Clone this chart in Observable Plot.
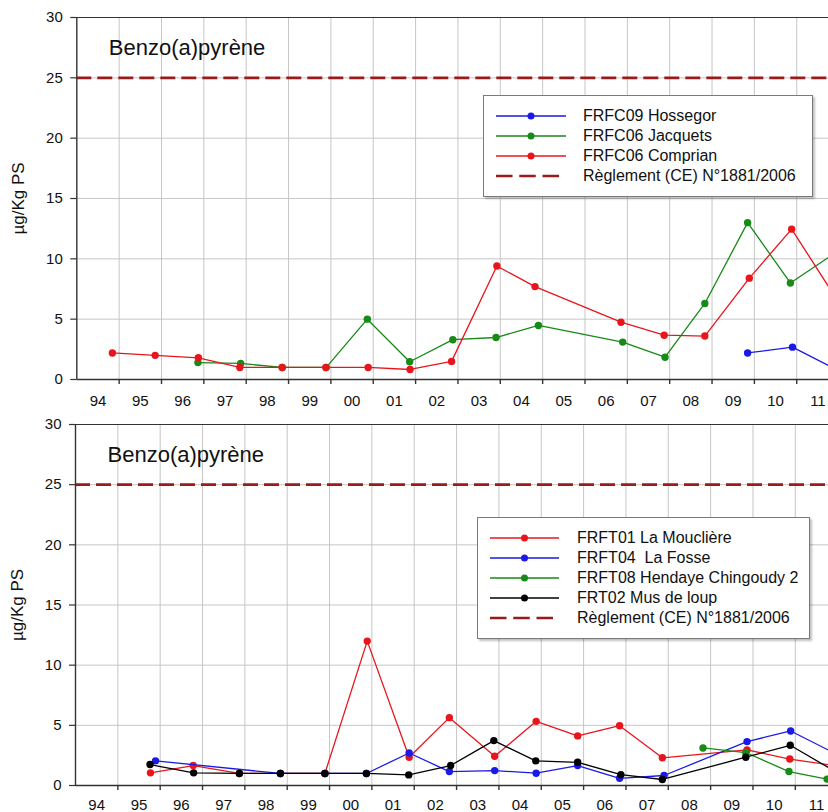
<!DOCTYPE html>
<html>
<head>
<meta charset="utf-8">
<script src="https://cdn.jsdelivr.net/npm/d3@7"></script>
<script src="https://cdn.jsdelivr.net/npm/@observablehq/plot@0.6"></script>
<style>
  html, body { margin: 0; padding: 0; background: #fff; overflow: hidden; }
  #wrap { position: relative; width: 828px; height: 812px; overflow: hidden; font-family: "Liberation Sans", Arial, sans-serif; }
  .panel { position: absolute; left: 0; }
  .legend { position: absolute; background: #fff; border: 1px solid #7a7a7a; box-shadow: 2px 2px 2px rgba(0,0,0,0.25); box-sizing: border-box; font-family: "Liberation Sans", Arial, sans-serif; font-size: 16px; color: #111; }
  .legend .row { display: flex; align-items: center; height: 20px; white-space: pre; }
  .legend svg { display: block; flex: none; }
</style>
</head>
<body>
<div id="wrap"></div>
<script>
// ---------- data ----------
const title = "Benzo(a)pyrène";
const yLabel = "µg/Kg PS";
const limitLabel = "Règlement (CE) N°1881/2006";
const limitValue = 25;
const yTicks = [0, 5, 10, 15, 20, 25, 30];
const yearLabels = ["94","95","96","97","98","99","00","01","02","03","04","05","06","07","08","09","10","11"];
const firstYear = 1994;

// top panel
const hossegorYears  = [2009.84, 2010.90, 2011.90];
const hossegorValues = [2.2, 2.68, 0.9];
const jacquetsYears  = [1996.86, 1997.87, 1998.85, 1999.89, 2000.86, 2001.86, 2002.88, 2003.90, 2004.90, 2006.89, 2007.89, 2008.83, 2009.84, 2010.85, 2011.87];
const jacquetsValues = [1.4, 1.33, 1.0, 1.0, 5.0, 1.47, 3.3, 3.48, 4.48, 3.1, 1.85, 6.3, 13.0, 8.0, 10.4];
const comprianYears  = [1994.84, 1995.85, 1996.87, 1997.85, 1998.85, 1999.88, 2000.88, 2001.87, 2002.85, 2003.92, 2004.82, 2006.85, 2007.87, 2008.83, 2009.88, 2010.88, 2011.88];
const comprianValues = [2.2, 2.0, 1.8, 1.0, 1.0, 1.0, 1.0, 0.83, 1.5, 9.4, 7.7, 4.75, 3.67, 3.6, 8.4, 12.46, 7.0];

// bottom panel
const moucliereYears  = [1995.77, 1996.78, 1997.87, 1998.84, 1999.89, 2000.89, 2001.88, 2002.83, 2003.90, 2004.88, 2005.86, 2006.85, 2007.86, 2009.86, 2010.87, 2011.87];
const moucliereValues = [1.05, 1.66, 1.0, 1.0, 1.0, 12.0, 2.35, 5.64, 2.43, 5.33, 4.12, 4.97, 2.3, 2.96, 2.2, 1.68];
const fosseYears  = [1995.89, 1998.84, 1999.89, 2000.87, 2001.88, 2002.83, 2003.90, 2004.88, 2005.86, 2006.85, 2007.90, 2009.86, 2010.89, 2011.89];
const fosseValues = [2.05, 1.0, 1.0, 1.0, 2.7, 1.16, 1.24, 1.02, 1.66, 0.6, 0.83, 3.65, 4.53, 2.75];
const hendayeYears  = [2008.82, 2009.83, 2010.85, 2011.75];
const hendayeValues = [3.12, 2.74, 1.16, 0.53];
const musYears  = [1995.76, 1996.79, 1997.87, 1998.84, 1999.89, 2000.87, 2001.87, 2002.86, 2003.88, 2004.87, 2005.86, 2006.88, 2007.86, 2009.83, 2010.88, 2011.88];
const musValues = [1.74, 1.05, 1.0, 1.0, 1.0, 1.0, 0.88, 1.66, 3.73, 2.05, 1.93, 0.9, 0.5, 2.35, 3.34, 1.29];

// ---------- styles ----------
const RED = "#e8161c", GREEN = "#178a17", BLUE = "#1a1ae6", BLACK = "#000000", LIMIT = "#9a1b1b";
const FONT = "'Liberation Sans', Arial, sans-serif";

const toRows = (name, xs, ys) => xs.map((x, i) => ({name, x, y: ys[i]}));

const topSeries = [
  {name: "FRFC09 Hossegor", color: BLUE, rows: toRows("FRFC09 Hossegor", hossegorYears, hossegorValues)},
  {name: "FRFC06 Jacquets", color: GREEN, rows: toRows("FRFC06 Jacquets", jacquetsYears, jacquetsValues)},
  {name: "FRFC06 Comprian", color: RED, rows: toRows("FRFC06 Comprian", comprianYears, comprianValues)}
];
const bottomSeries = [
  {name: "FRFT01 La Mouclière", color: RED, rows: toRows("FRFT01 La Mouclière", moucliereYears, moucliereValues)},
  {name: "FRFT04  La Fosse", color: BLUE, rows: toRows("FRFT04  La Fosse", fosseYears, fosseValues)},
  {name: "FRFT08 Hendaye Chingoudy 2", color: GREEN, rows: toRows("FRFT08 Hendaye Chingoudy 2", hendayeYears, hendayeValues)},
  {name: "FRT02 Mus de loup", color: BLACK, rows: toRows("FRT02 Mus de loup", musYears, musValues)}
];

function makePanel(series, marginLeft, xEnd, marginTop, labelDy) {
  const labelRows = yearLabels.map((t, i) => ({t, x: firstYear + i + 0.5}));
  const marks = [
    Plot.gridX(d3.range(firstYear + 1, firstYear + yearLabels.length), {stroke: "#c6c6c6", strokeOpacity: 1, strokeWidth: 1}),
    Plot.gridY(yTicks.filter(v => v > 0 && v < 30), {stroke: "#c6c6c6", strokeOpacity: 1, strokeWidth: 1}),
    Plot.ruleY([limitValue], {stroke: LIMIT, strokeWidth: 2.6, strokeDasharray: "15,6"}),
    Plot.ruleY([30], {stroke: "#333", strokeWidth: 1.2}),
    Plot.ruleY([0], {stroke: "#333", strokeWidth: 1.4}),
    Plot.ruleX([firstYear], {stroke: "#333", strokeWidth: 1.4}),
    Plot.axisX({ticks: d3.range(firstYear + 1, firstYear + yearLabels.length), tickSize: 5, tickFormat: () => "", label: null, stroke: "#333", strokeWidth: 1.4}),
    Plot.axisY({ticks: yTicks, tickSize: 6, tickPadding: 8, fontSize: 15, label: null, stroke: "#333", strokeWidth: 1.2, tickFormat: d => String(d)}),
    Plot.text(labelRows, {x: "x", text: "t", frameAnchor: "bottom", dy: labelDy, fontSize: 15, lineAnchor: "middle", fill: "#111"}),
    Plot.text([yLabel], {frameAnchor: "left", dx: -58, rotate: -90, fontSize: 17, textAnchor: "middle", lineAnchor: "middle", fill: "#111"}),
    Plot.text([title], {frameAnchor: "top-left", dx: 32, dy: 30, fontSize: 22, textAnchor: "start", lineAnchor: "middle", fill: "#111"})
  ];
  for (const s of series) {
    marks.push(Plot.line(s.rows, {x: "x", y: "y", stroke: s.color, strokeWidth: 1.3, clip: true}));
    marks.push(Plot.dot(s.rows, {x: "x", y: "y", r: 3.7, fill: s.color, stroke: "none", clip: true}));
  }
  return Plot.plot({
    width: 828,
    height: 412,
    marginLeft,
    marginRight: 0,
    marginTop,
    marginBottom: 33,
    x: {domain: [firstYear, xEnd], axis: null},
    y: {domain: [0, 30], axis: null},
    style: {fontFamily: FONT, fontSize: "15px", color: "#111", background: "transparent"},
    marks
  });
}

function makeLegend(series, box) {
  const div = document.createElement("div");
  div.className = "legend";
  Object.assign(div.style, {left: box.left + "px", top: box.top + "px", width: box.width + "px", height: box.height + "px", paddingTop: box.padTop + "px", paddingLeft: box.padLeft + "px"});
  const ns = "http://www.w3.org/2000/svg";
  const addRow = (draw, label) => {
    const row = document.createElement("div");
    row.className = "row";
    const svg = document.createElementNS(ns, "svg");
    svg.setAttribute("width", box.swatch);
    svg.setAttribute("height", 20);
    draw(svg);
    svg.style.marginRight = box.gap + "px";
    row.appendChild(svg);
    const span = document.createElement("span");
    span.textContent = label;
    row.appendChild(span);
    div.appendChild(row);
  };
  for (const s of series) {
    addRow(svg => {
      const l = document.createElementNS(ns, "line");
      l.setAttribute("x1", 0); l.setAttribute("x2", box.swatch); l.setAttribute("y1", 10); l.setAttribute("y2", 10);
      l.setAttribute("stroke", s.color); l.setAttribute("stroke-width", 1.3);
      svg.appendChild(l);
      const c = document.createElementNS(ns, "circle");
      c.setAttribute("cx", box.swatch / 2); c.setAttribute("cy", 10); c.setAttribute("r", 3.5);
      c.setAttribute("fill", s.color);
      svg.appendChild(c);
    }, s.name);
  }
  addRow(svg => {
    const l = document.createElementNS(ns, "line");
    l.setAttribute("x1", 0); l.setAttribute("x2", 63); l.setAttribute("y1", 10); l.setAttribute("y2", 10);
    l.setAttribute("stroke", LIMIT); l.setAttribute("stroke-width", 2.6); l.setAttribute("stroke-dasharray", "16.5,6.75");
    svg.appendChild(l);
  }, limitLabel);
  return div;
}

const wrap = document.getElementById("wrap");
const top1 = makePanel(topSeries, 76.3, 2011.75, 17, 22);
top1.classList.add("panel");
top1.style.top = "0px";
wrap.appendChild(top1);

const bot = makePanel(bottomSeries, 75, 2011.784, 18, 20);
bot.classList.add("panel");
bot.style.top = "406px";
wrap.appendChild(bot);

wrap.appendChild(makeLegend(topSeries, {left: 483, top: 95, width: 330, height: 102, padTop: 10, padLeft: 12, swatch: 70, gap: 17}));
wrap.appendChild(makeLegend(bottomSeries, {left: 477, top: 517, width: 333, height: 122, padTop: 10, padLeft: 12, swatch: 69, gap: 18}));
</script>
</body>
</html>
